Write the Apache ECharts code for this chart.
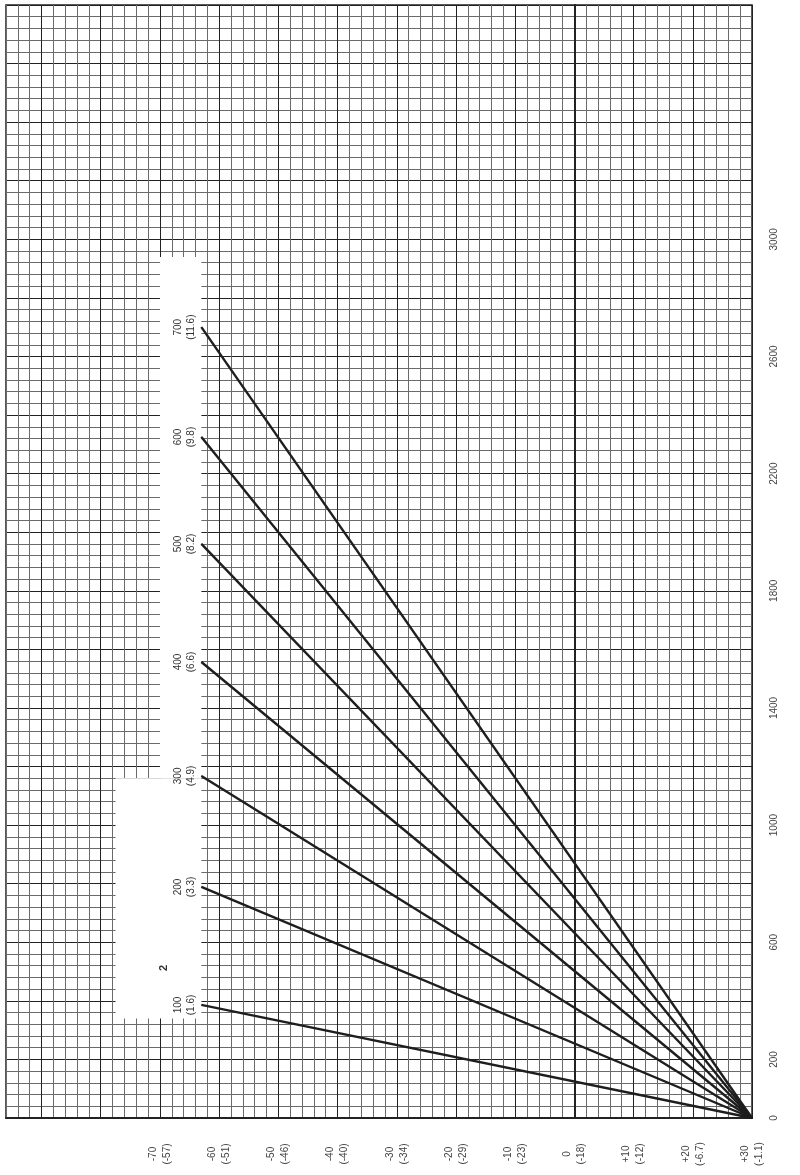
<!DOCTYPE html>
<html>
<head>
<meta charset="utf-8">
<script src="https://cdn.jsdelivr.net/npm/echarts@6/dist/echarts.min.js"></script>
<style>
  html, body { margin: 0; padding: 0; background: #fff; }
  #chart { width: 800px; height: 1175px; }
</style>
</head>
<body>
<div id="chart"></div>
<script>
// temperature axis (horizontal), F with C in brackets
var tempF = [-70, -60, -50, -40, -30, -20, -10, 0, 10, 20, 30]
var tempC = ['-57', '-51', '-46', '-40', '-34', '-29', '-23', '-18', '-12', '-6.7', '-1.1']
// vertical axis labels
var valueTicks = [0, 200, 600, 1000, 1400, 1800, 2200, 2600, 3000]

// rays: all start at +30 / 0 and end at the white box
var rayNames = ['100', '200', '300', '400', '500', '600', '700']
var raySub = ['1.6', '3.3', '4.9', '6.6', '8.2', '9.8', '11.6']
var rayStart = [30, 0]
var rayEndTemp = -63
var rayEndValue = [386, 789, 1168, 1557, 1960, 2325, 2700]

var chart = echarts.init(document.getElementById('chart'))

function tempLabel(v) {
  var i = tempF.indexOf(v)
  if (i < 0) return ''
  var f = v > 0 ? '+' + v : '' + v
  return f + '\n(' + tempC[i] + ')'
}

var series = rayNames.map(function(name, i) {
  return {
    name: name,
    type: 'line',
    z: 3,
    symbol: 'circle',
    symbolSize: 1,
    animation: false,
    lineStyle: { color: '#1e1e1e', width: 2.4 },
    itemStyle: { color: '#1e1e1e' },
    data: [
      rayStart,
      {
        value: [rayEndTemp, rayEndValue[i]],
        label: {
          show: true,
          position: 'left',
          distance: 3,
          rotate: 90,
          align: 'center',
          verticalAlign: 'bottom',
          lineHeight: 13,
          fontSize: 10,
          fontFamily: 'Liberation Sans',
          color: '#333',
          formatter: name + '\n(' + raySub[i] + ')'
        }
      }
    ]
  }
})

// white label box + the "2" mark
series.unshift({
  type: 'line',
  data: [],
  z: 1,
  animation: false,
  markArea: {
    silent: true,
    itemStyle: { color: '#fff' },
    data: [
      [{ coord: [-70, 1160] }, { coord: [-63, 2940] }],
      [{ coord: [-77.5, 340] }, { coord: [-63, 1160] }]
    ]
  },
  markPoint: {
    symbol: 'circle',
    symbolSize: 0,
    label: {
      show: true,
      position: 'inside',
      rotate: 90,
      fontSize: 11,
      fontWeight: 'bold',
      fontFamily: 'Liberation Sans',
      color: '#333',
      formatter: '2'
    },
    data: [{ coord: [-69.3, 512] }]
  }
})

chart.setOption({
  animation: false,
  backgroundColor: '#fff',
  grid: {
    left: 6,
    right: 48,
    top: 5,
    bottom: 57,
    show: true,
    borderColor: '#222',
    borderWidth: 1.5
  },
  xAxis: {
    type: 'value',
    min: -96,
    max: 30,
    interval: 2,
    axisLine: { show: true, lineStyle: { color: '#222', width: 2 } },
    axisTick: { show: false },
    splitLine: {
      show: true,
      lineStyle: { color: ['#6a6a6a', '#6a6a6a', '#6a6a6a', '#222', '#6a6a6a'], width: 1 }
    },
    axisLabel: {
      rotate: 90,
      margin: 36,
      align: 'center',
      verticalAlign: 'middle',
      lineHeight: 14,
      fontSize: 10,
      fontFamily: 'Liberation Sans',
      color: '#444',
      formatter: tempLabel
    }
  },
  yAxis: {
    type: 'value',
    position: 'right',
    min: 0,
    max: 3800,
    interval: 40,
    axisLine: { show: true, lineStyle: { color: '#222', width: 2 } },
    axisTick: { show: false },
    splitLine: {
      show: true,
      lineStyle: { color: ['#222', '#6a6a6a', '#6a6a6a', '#6a6a6a', '#6a6a6a'], width: 1 }
    },
    axisLabel: {
      rotate: 90,
      margin: 22,
      align: 'center',
      verticalAlign: 'middle',
      fontSize: 10,
      fontFamily: 'Liberation Sans',
      color: '#444',
      formatter: function(v) {
        return valueTicks.indexOf(v) >= 0 ? '' + v : ''
      }
    }
  },
  series: series
})
</script>
</body>
</html>
